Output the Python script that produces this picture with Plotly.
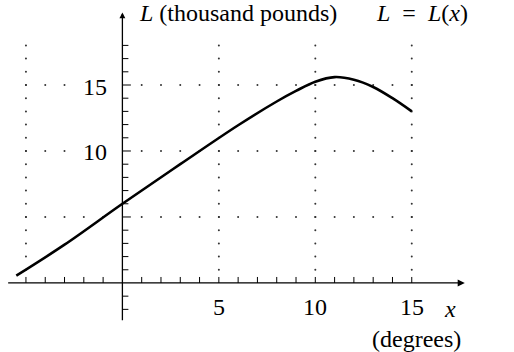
import plotly.graph_objects as go

# curve L = L(x)
curve_x = [-5.5, -3, 0, 3, 6, 8, 9, 10, 11, 12, 13, 14, 15]
curve_y = [0.55, 2.9, 6.0, 9.0, 11.95, 13.75, 14.55, 15.25, 15.6, 15.4, 14.85, 14.0, 13.0]

# axes extent and ticks
x_axis_span = [-6.0, 17.75]
y_axis_span = [-2.93, 20.5]
x_ticks = [t for t in range(-5, 16) if t != 0]
y_ticks = [t for t in range(-2, 19) if t != 0]
x_tick_labels = [5, 10, 15]
y_tick_labels = [10, 15]

# dotted grid
grid_x = [-5, 5, 10, 15]
grid_y = [5, 10, 15]
grid_x_from, grid_x_to = -5, 15
grid_y_from, grid_y_to = 1, 18

FONT = "Liberation Serif"
X_RANGE = [-6.345, 20.3]
Y_RANGE = [-5.23, 21.44]
XU = 514 / (X_RANGE[1] - X_RANGE[0])   # px per x unit
YU = 352 / (Y_RANGE[1] - Y_RANGE[0])   # px per y unit

fig = go.Figure()

# grid dots
dx, dy = [], []
for gx in grid_x:
    for yy in range(grid_y_from, grid_y_to + 1):
        dx.append(gx)
        dy.append(yy)
for gy in grid_y:
    for xx in range(grid_x_from, grid_x_to + 1):
        if xx == 0:
            continue
        dx.append(xx)
        dy.append(gy)
fig.add_trace(go.Scatter(x=dx, y=dy, mode="markers",
                         marker=dict(size=2, color="#333"),
                         hoverinfo="skip"))

# tick marks
tx, ty = [], []
for t in x_ticks:
    tx += [t, t, None]
    ty += [0, 6 / YU, None]
for t in y_ticks:
    ln = 8.5 if t in (5, 10, 15) else 6
    tx += [0, ln / XU, None]
    ty += [t, t, None]
fig.add_trace(go.Scatter(x=tx, y=ty, mode="lines",
                         line=dict(color="black", width=1),
                         hoverinfo="skip"))

# the curve
fig.add_trace(go.Scatter(x=curve_x, y=curve_y, mode="lines",
                         line=dict(color="black", width=2.6, shape="spline"),
                         hoverinfo="skip"))

# axes with arrows
fig.add_annotation(x=x_axis_span[1], y=0, ax=x_axis_span[0], ay=0,
                   xref="x", yref="y", axref="x", ayref="y", text="",
                   showarrow=True, arrowhead=2, arrowsize=1.1, arrowwidth=1.3,
                   arrowcolor="black")
fig.add_annotation(x=0, y=y_axis_span[1], ax=0, ay=y_axis_span[0],
                   xref="x", yref="y", axref="x", ayref="y", text="",
                   showarrow=True, arrowhead=2, arrowsize=0.9, arrowwidth=1.3,
                   arrowcolor="black")

# tick labels
for v in x_tick_labels:
    fig.add_annotation(x=v, y=0, text=str(v), showarrow=False,
                       yanchor="middle", yshift=-24,
                       font=dict(family=FONT, size=24, color="black"))
for v in y_tick_labels:
    fig.add_annotation(x=0, y=v, text=str(v), showarrow=False,
                       xanchor="right", xshift=-14, yshift=-1.5,
                       bgcolor="white", borderpad=0,
                       font=dict(family=FONT, size=24, color="black"))

# axis titles
fig.add_annotation(x=0, y=y_axis_span[1], text="<i>L</i> (thousand pounds)",
                   showarrow=False, xanchor="left", yanchor="middle",
                   xshift=15, yshift=-1,
                   font=dict(family=FONT, size=24, color="black"))
fig.add_annotation(x=15.55, y=y_axis_span[1],
                   text="<i>L</i>\u2002=\u2002<i>L</i>(<i>x</i>)",
                   showarrow=False, xanchor="center", yanchor="middle",
                   yshift=-1,
                   font=dict(family=FONT, size=24, color="black"))
fig.add_annotation(x=17, y=0, text="<i>x</i>", showarrow=False,
                   yanchor="middle", yshift=-26,
                   font=dict(family=FONT, size=24, color="black"))
fig.add_annotation(x=15.25, y=0, text="(degrees)", showarrow=False,
                   yanchor="middle", yshift=-56,
                   font=dict(family=FONT, size=24, color="black"))

fig.update_xaxes(range=X_RANGE, visible=False, fixedrange=True)
fig.update_yaxes(range=Y_RANGE, visible=False, fixedrange=True)
fig.update_layout(width=514, height=352, margin=dict(l=0, r=0, t=0, b=0),
                  paper_bgcolor="white", plot_bgcolor="white",
                  showlegend=False)

fig.write_html("out.html", config={"displayModeBar": False},
               post_script="document.body.style.margin='0';")
